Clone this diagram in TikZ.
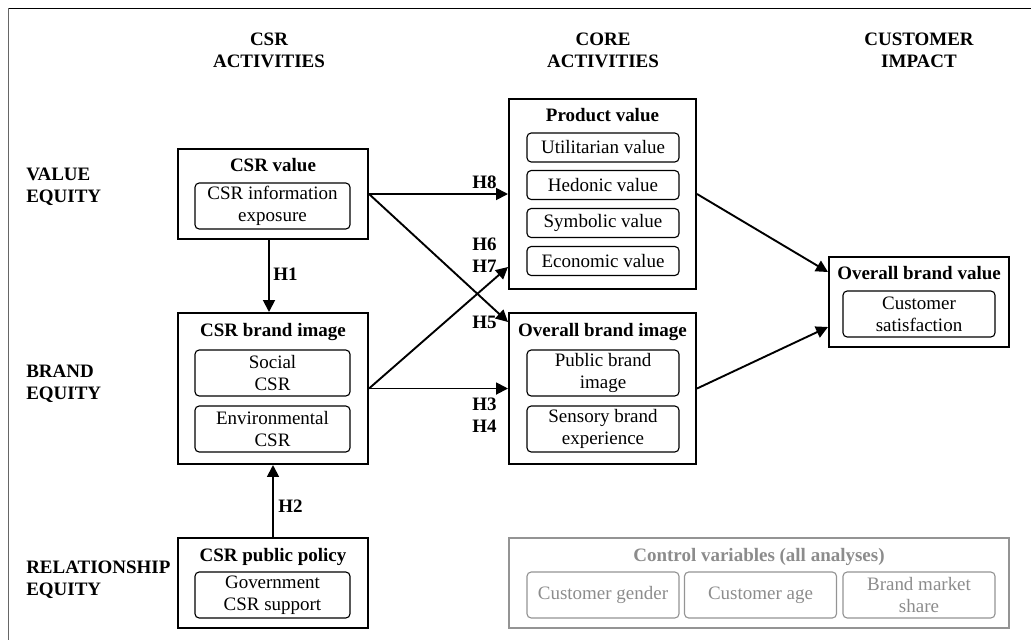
\documentclass[tikz,border=0pt]{standalone}
\usepackage{fontspec}
\setmainfont{LiberationSerif}[Extension=.ttf, UprightFont=*-Regular, BoldFont=*-Bold, ItalicFont=*-Italic, BoldItalicFont=*-BoldItalic]
\usetikzlibrary{arrows.meta,positioning}

\tikzset{
	txt/.style={font=\fontsize{13.5}{15.6}\selectfont, inner sep=0pt},
	bold/.style={txt, font=\fontsize{13.5}{15.6}\selectfont\bfseries, align=center},
	title/.style={bold, text height=10pt, text depth=1pt},
	hyp/.style={bold, anchor=east},
	outerbox/.style={draw, line width=1.4pt, inner sep=0pt},
	item/.style={txt, draw, line width=0.8pt, rounded corners=3pt, align=center, minimum width=3.875cm, minimum height=1.15cm},
	smallitem/.style={item, minimum height=0.725cm},
	ctrl/.style={draw=black!42, text=black!45},
	arr/.style={-{Triangle[length=8.5pt,width=8.5pt]}, line width=1.35pt},
}

\begin{document}
\begin{tikzpicture}[x=0.025cm, y=-0.025cm]
	%%%%% START %%%%%
	\useasboundingbox (0,0) rectangle (1031,640);
	\draw[line width=0.6pt] (1031,8) -- (8,8);
	\draw[line width=0.6pt, black!60] (8,8) -- (8,640);
	
	% column heads
	\node[bold] (hcsr) at (269,50) {CSR\\ACTIVITIES};
	\node[bold] (hcore) at (603,50) {CORE\\ACTIVITIES};
	\node[bold] (hcust) at (919,50) {CUSTOMER\\IMPACT};
	
	% row heads
	\node[bold, anchor=west, align=left] (rval) at (26,187) {VALUE\\EQUITY};
	\node[bold, anchor=west, align=left] (rbrand) at (26,384) {BRAND\\EQUITY};
	\node[bold, anchor=west, align=left] (rrel) at (26,580) {RELATIONSHIP\\EQUITY};
	
	% CSR activities
	\node[outerbox, minimum width=4.75cm, minimum height=2.25cm] (csrval) at (273,194) {};
	\node[title] (tcsrval) at (273,165) {CSR value};
	\node[item] (exposure) at (272.5,206) {CSR information\\exposure};
	
	\node[outerbox, minimum width=4.75cm, minimum height=3.775cm] (csrimg) at (273,388.5) {};
	\node[title] (tcsrimg) at (273,330) {CSR brand image};
	\node[item] (social) at (272.5,373) {Social\\CSR};
	\node[item] (environ) at (272.5,429) {Environmental\\CSR};
	
	\node[outerbox, minimum width=4.75cm, minimum height=2.25cm] (csrpol) at (273,583) {};
	\node[title] (tcsrpol) at (273,555) {CSR public policy};
	\node[item] (govsup) at (272.5,595) {Government\\CSR support};
	
	% core activities
	\node[outerbox, minimum width=4.675cm, minimum height=4.75cm] (prodval) at (602.5,194) {};
	\node[title] (tprodval) at (602.5,115) {Product value};
	\node[smallitem, minimum width=3.8cm] (util) at (603,147.5) {Utilitarian value};
	\node[smallitem, minimum width=3.8cm] (hedon) at (603,185) {Hedonic value};
	\node[smallitem, minimum width=3.8cm] (symb) at (603,223) {Symbolic value};
	\node[smallitem, minimum width=3.8cm] (econ) at (603,261) {Economic value};
	
	\node[outerbox, minimum width=4.675cm, minimum height=3.775cm] (obimg) at (602.5,388.5) {};
	\node[title] (tobimg) at (602.5,330) {Overall brand image};
	\node[item, minimum width=3.8cm] (pubimg) at (603,373) {Public brand\\image};
	\node[item, minimum width=3.8cm] (sensory) at (603,429) {Sensory brand\\experience};
	
	% customer impact
	\node[outerbox, minimum width=4.5cm, minimum height=2.25cm] (obval) at (919,302) {};
	\node[title] (tobval) at (919,273) {Overall brand value};
	\node[item, minimum width=3.8cm] (satisf) at (919,314) {Customer\\satisfaction};
	
	% controls
	\node[outerbox, ctrl, line width=1.2pt, minimum width=12.5cm, minimum height=2.25cm] (ctrlbox) at (759,583) {};
	\node[title, text=black!45] (tctrl) at (759,555) {Control variables (all analyses)};
	\node[item, ctrl, minimum width=3.8cm] (gender) at (603,595) {Customer gender};
	\node[item, ctrl, minimum width=3.8cm] (age) at (760.5,595) {Customer age};
	\node[item, ctrl, minimum width=3.8cm] (share) at (919,595) {Brand market\\share};
	
	% paths
	\draw[arr] ([xshift=-0.1cm]csrval.south) -- ([xshift=-0.1cm]csrimg.north);
	\draw[arr] (csrpol.north) -- (csrimg.south);
	\draw[arr] (csrval.east) -- (prodval.west);
	\draw[arr] (csrval.east) -- ([yshift=-0.25cm]obimg.north west);
	\draw[arr] (csrimg.east) -- ([yshift=0.575cm]prodval.south west);
	\draw[arr] (csrimg.east) -- (obimg.west);
	\draw[arr] (prodval.east) -- ([yshift=-0.4cm]obval.north west);
	\draw[arr] (obimg.east) -- ([yshift=0.525cm]obval.south west);
	
	% hypotheses
	\node[bold, anchor=west] (h1) at (273,274) {H1};
	\node[bold, anchor=west] (h2) at (278,506) {H2};
	\node[hyp] (h8) at (497,182) {H8};
	\node[hyp] (h67) at (497,255) {H6\\H7};
	\node[hyp] (h5) at (497,322) {H5};
	\node[hyp] (h34) at (497,415) {H3\\H4};
	%%%%% END %%%%%
\end{tikzpicture}
\end{document}
